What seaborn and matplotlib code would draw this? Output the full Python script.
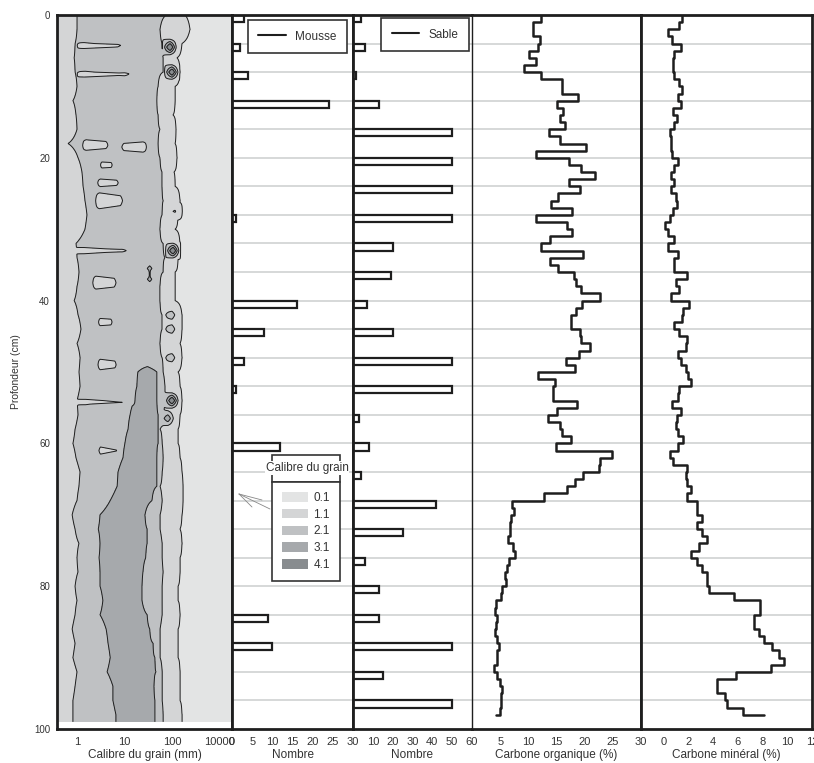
import numpy as np
import pandas as pd
import seaborn as sns
import matplotlib.pyplot as plt
from matplotlib.patches import Patch, Rectangle
from matplotlib.lines import Line2D

nan = np.nan

# --- calibre du grain: limites des classes (mm), noeuds tous les 2 cm ---
grain_depths = np.arange(0, 100, 2)
edge_21_left = [1.0, 1.0, 0.91, 0.87, 0.91, 1.0, 0.82, 0.95, 1.0, 0.65,
                1.05, 1.27, 1.34, 1.47, 1.62, 1.47, 0.95, 1.0, 1.10, 1.0,
                0.87, 1.05, 1.21, 1.0, 1.16, 1.10, 1.16, 1.0, 1.05, 0.91,
                0.82, 0.95, 1.16, 1.10, 1.0, 0.79, 0.91, 1.10, 1.0, 1.05,
                0.91, 1.0, 0.91, 0.79, 0.91, 0.82, 1.0, 0.91, 0.82, 0.82]
edge_31_left = [nan] * 25 + [19.2, 18.3, 16.6, 13.1, 11.9, 10.2, 9.3, 7.3, 7.0, 5.0,
                             3.05, 2.8, 3.05, 2.9, 3.05, 3.05, 3.5, 3.05, 4.1, 4.5,
                             5.0, 4.3, 5.7, 5.7, 6.6]
edge_31_right = [nan] * 25 + [48, 48, 48, 51, 51, 51, 48, 48, 48, 38,
                              27, 30, 30, 28, 24.5, 23.4, 23.4, 30, 34, 40,
                              44, 46, 42, 44, 44]
edge_21_right = [75, 56, 62, 65, 65, 51, 48, 51, 56, 51,
                 56, 62, 62, 65, 62, 56, 65, 71, 65, 56,
                 56, 62, 62, 56, 62, 65, 71, 71, 65, 56,
                 62, 65, 62, 56, 62, 56, 56, 62, 62, 65,
                 62, 62, 62, 56, 56, 56, 62, 62, 62, 65]
edge_11_right = [188, 239, 162, 127, 147, 116, 116, 105, 121, 116,
                 127, 110, 116, 147, 134, 116, 147, 134, 116, 116,
                 116, 162, 162, 147, 162, 134, 147, 162, 147, 134,
                 134, 147, 162, 170, 170, 162, 147, 162, 147, 147,
                 134, 134, 147, 134, 134, 134, 147, 147, 147, 162]

# taches grossières (mm) et lentilles fines
spot_depth = [4.5, 8.0, 27.5, 33.0, 35.5, 37.0, 42.0, 44.0, 48.0, 54.0, 56.5]
spot_size = [91, 100, 116, 105, 34, 34, 100, 100, 100, 100, 82]
spot_peak = [4.0, 4.0, 0.9, 4.2, 1.2, 1.2, 1.0, 1.0, 1.0, 3.9, 2.2]

lens_depth = [4.3, 8.3, 18.2, 18.5, 21.0, 23.5, 26.0, 33.0, 37.5, 43.0, 49.0, 54.2, 61.0]
lens_lo = [1.0, 1.0, 1.27, 8.0, 3.05, 2.64, 2.39, 0.95, 2.07, 2.77, 2.64, 1.0, 2.64]
lens_hi = [10.2, 15.1, 4.95, 29.8, 5.73, 8.0, 10.2, 13.1, 7.3, 5.73, 7.3, 16.6, 8.0]
lens_thick = [0.4, 0.4, 0.9, 0.9, 0.6, 0.7, 1.4, 0.4, 1.2, 0.7, 1.1, 0.4, 1.2]

grain_levels = [0.1, 1.1, 2.1, 3.1, 4.1]
grain_colors = ["#e3e4e4", "#d4d5d6", "#bfc1c3", "#a6a9ac", "#888c8f"]

# --- comptages tous les 4 cm ---
count_depths = np.arange(0, 100, 4)
mousse = [3, 2, 4, 24, 0, 0, 0, 1, 0, 0, 16, 8, 3, 1, 0, 12, 0, 0, 0, 0, 0, 9, 10, 0, 0]
sable = [4, 6, 1.5, 13, 50, 50, 50, 50, 20, 19, 7, 20, 50, 50, 3, 8, 4, 42, 25, 6,
         13, 13, 50, 15, 50]

# --- carbone (%), pas de 1 cm ---
carb_org = [12.3, 10.9, 10.9, 12.0, 11.8, 10.1, 11.4, 9.3, 12.2, 16.0,
            16.0, 18.8, 15.0, 16.2, 15.6, 16.5, 13.7, 15.6, 20.3, 11.3,
            17.2, 19.3, 21.8, 17.2, 19.2, 15.3, 14.0, 17.8, 11.3, 16.9,
            17.8, 13.8, 12.2, 19.7, 13.8, 15.3, 18.1, 18.4, 19.4, 22.7,
            19.6, 18.4, 17.6, 17.5, 19.1, 19.4, 20.9, 19.0, 16.6, 18.2,
            11.7, 14.7, 14.3, 14.3, 18.6, 15.0, 13.5, 15.6, 15.9, 17.5,
            14.9, 24.9, 22.7, 22.5, 19.7, 18.2, 16.9, 12.7, 7.1, 7.5,
            7.0, 6.8, 6.7, 6.4, 7.2, 7.6, 6.6, 6.3, 5.9, 6.1,
            5.3, 5.1, 4.2, 4.1, 4.4, 4.2, 4.1, 4.4, 4.8, 4.4,
            4.5, 3.9, 4.4, 5.0, 5.4, 5.2, 5.2, 5.0]
carb_org_end = 4.2
carb_min = [1.5, 1.3, 0.4, 0.7, 1.4, 0.9, 0.8, 0.8, 0.9, 1.3,
            1.5, 1.2, 1.4, 0.8, 1.1, 0.9, 0.5, 0.6, 0.6, 0.7,
            1.2, 0.9, 0.6, 0.9, 0.6, 1.0, 1.1, 0.8, 0.5, 0.1,
            0.4, 0.9, 0.4, 1.2, 0.9, 0.9, 1.9, 1.0, 1.3, 0.6,
            2.1, 1.6, 1.5, 0.9, 1.3, 1.9, 1.8, 1.2, 1.4, 1.8,
            2.0, 2.2, 1.3, 1.2, 0.7, 1.4, 1.1, 1.0, 1.2, 1.6,
            1.2, 0.5, 0.8, 1.9, 1.8, 1.9, 2.2, 1.9, 2.7, 2.7,
            3.1, 2.7, 3.1, 3.5, 2.9, 2.2, 2.7, 3.1, 3.5, 3.5,
            3.7, 5.7, 7.8, 7.8, 7.3, 7.3, 7.7, 8.1, 8.8, 9.3,
            9.7, 8.7, 5.9, 4.3, 4.3, 5.0, 5.1, 6.4]
carb_min_end = 8.1

grid_depths = np.arange(4, 100, 4)

# ---------------------------------------------------------------------------
sns.set_style("white")
plt.rcParams["font.family"] = ["Liberation Sans", "DejaVu Sans"]
INK = "#1e1e1e"
TXT = "#333333"

grain_xlim = (0.379, 1834)
lx = np.linspace(np.log10(grain_xlim[0]), np.log10(grain_xlim[1]), 420)


def profile(a, b, c, d, e):
    a, d, e = np.log10([a, d, e])
    kx, kz = [lx[0], a], [1.6, 2.1]
    if np.isnan(b):
        kx += [(a + d) / 2]
        kz += [2.6]
    else:
        b, c = np.log10([b, c])
        kx += [(a + b) / 2, b, (b + c) / 2, c, (c + d) / 2]
        kz += [2.6, 3.1, 3.6, 3.1, 2.6]
    kx += [d, (d + e) / 2, e, lx[-1]]
    kz += [2.1, 1.6, 1.1, 0.5]
    return np.interp(lx, kx, kz)


z_nodes = np.array([profile(*r) for r in zip(edge_21_left, edge_31_left, edge_31_right,
                                              edge_21_right, edge_11_right)])
depth_fine = np.arange(0, 99.01, 0.25)
Z = np.column_stack([np.interp(depth_fine, grain_depths, z_nodes[:, j])
                     for j in range(len(lx))])
DD, LX = np.meshgrid(depth_fine, lx, indexing="ij")
for d0, s, amp in zip(spot_depth, spot_size, spot_peak):
    w = (np.clip(1 - np.abs(DD - d0) / 1.2, 0, 1)
         * np.clip(1 - np.abs(LX - np.log10(s)) / 0.16, 0, 1))
    Z += amp * w
for d0, lo, hi, th in zip(lens_depth, lens_lo, lens_hi, lens_thick):
    cx = (np.log10(lo) + np.log10(hi)) / 2
    hw = (np.log10(hi) - np.log10(lo)) / 2
    w = (np.clip(1 - np.abs(DD - d0) / th, 0, 1)
         * np.clip((hw - np.abs(LX - cx)) / (0.3 * hw), 0, 1))
    Z -= 0.9 * w

# --- figure layout (pixels of the 814x763 reference) ---
W, H = 814, 763
fig = plt.figure(figsize=(W / 100, H / 100), dpi=100)
top, bot = 15, 729
edges = [57, 232, 353, 472, 641, 812]
axes = [fig.add_axes([x0 / W, 1 - bot / H, (x1 - x0) / W, (bot - top) / H])
        for x0, x1 in zip(edges[:-1], edges[1:])]
ax1, ax2, ax3, ax4, ax5 = axes

# panel 1: contours
ax1.set_xscale("log")
ax1.contourf(10 ** LX, DD, Z, levels=grain_levels + [50], colors=grain_colors)
ax1.contour(10 ** LX, DD, Z, levels=grain_levels[1:], colors=INK, linewidths=0.7)
ax1.set_xlim(*grain_xlim)
ax1.set_xticks([1, 10, 100, 1000])
ax1.set_xticklabels(["1", "10", "100", "10000"])
ax1.minorticks_off()
ax1.set_yticks(np.arange(0, 101, 20))
ax1.set_ylabel("Profondeur (cm)", fontsize=7.5, color=TXT, labelpad=9)
ax1.set_xlabel("Calibre du grain (mm)", fontsize=8.5, color=TXT, labelpad=1)
ax1.tick_params(axis="y", labelsize=7, length=3, width=2, pad=2, colors=INK, labelcolor=TXT)

# panels 2, 3: bars
df_m = pd.DataFrame({"depth": count_depths + 0.5, "n": mousse})
df_m = df_m[df_m["n"] > 0]
sns.barplot(data=df_m, x="n", y="depth", orient="h", native_scale=True, width=0.25,
            color="white", edgecolor=INK, linewidth=1.6, ax=ax2)
df_s = pd.DataFrame({"depth": count_depths + 0.5, "n": sable})
sns.barplot(data=df_s, x="n", y="depth", orient="h", native_scale=True, width=0.25,
            color="white", edgecolor=INK, linewidth=1.6, ax=ax3)
ax2.set_xlim(0, 30)
ax2.set_xticks(np.arange(0, 31, 5))
ax3.set_xlim(0, 60)
ax3.set_xticks(np.arange(0, 61, 10))
ax3.set_xticklabels([""] + [str(v) for v in range(10, 61, 10)])
ax2.set_xlabel("Nombre", fontsize=8.5, color=TXT, labelpad=1)
ax3.set_xlabel("Nombre", fontsize=8.5, color=TXT, labelpad=1)


def steps(vals, last):
    n = len(vals)
    depth = np.repeat(np.arange(n), 2) + np.tile([0, 1], n)
    return pd.DataFrame({"x": np.append(np.repeat(vals, 2), last),
                         "depth": np.append(depth, n)})


sns.lineplot(data=steps(carb_org, carb_org_end), x="x", y="depth", sort=False,
             estimator=None, orient="y", color=INK, lw=1.8, ax=ax4)
sns.lineplot(data=steps(carb_min, carb_min_end), x="x", y="depth", sort=False,
             estimator=None, orient="y", color=INK, lw=1.8, ax=ax5)
ax4.set_xlim(0, 30)
ax4.set_xticks(np.arange(0, 31, 5))
ax4.set_xticklabels([""] + [str(v) for v in range(5, 31, 5)])
ax5.set_xlim(-1.8, 12)
ax5.set_xticks(np.arange(0, 13, 2))
ax4.set_xlabel("Carbone organique (%)", fontsize=8.5, color=TXT, labelpad=1)
ax5.set_xlabel("Carbone minéral (%)", fontsize=8.5, color=TXT, labelpad=1)

for ax in axes[1:]:
    ax.set_yticks(grid_depths)
    ax.yaxis.grid(True, color="#d3d6d6", lw=1.3)
    ax.set_axisbelow(True)
    ax.tick_params(axis="y", left=False, labelleft=False)
    ax.set_ylabel("")

for ax in axes:
    ax.set_ylim(100, 0)
    ax.tick_params(axis="x", direction="out", length=4, width=1.5, colors=INK,
                   labelcolor=TXT, labelsize=8, pad=2)
    for s in ax.spines.values():
        s.set_color(INK)
        s.set_linewidth(2.0)

ax3.spines["right"].set_visible(False)
ax4.spines["left"].set_linewidth(1.0)

# legends
for ax, lab, dx, dy, w in [(ax2, "Mousse", 6, 5, 121), (ax3, "Sable", 3, 3, 119)]:
    leg = ax.legend(handles=[Line2D([], [], color=INK, lw=1.5)], labels=[lab],
                    loc="upper right", bbox_to_anchor=(1 - dx / w, 1 - dy / 714),
                    borderaxespad=0, fancybox=False, fontsize=8.5, handlelength=2.3,
                    handletextpad=0.8, borderpad=0.9, framealpha=1, edgecolor="#333333")
    leg.get_frame().set_linewidth(1.2)
    for t in leg.get_texts():
        t.set_color(TXT)

patches = [Patch(facecolor=c, edgecolor="none") for c in grain_colors]
leg = fig.legend(handles=patches, labels=[str(v) for v in grain_levels], loc="upper left",
                 bbox_to_anchor=(272 / W, 1 - 482 / H), borderaxespad=0, fancybox=False,
                 fontsize=8.5, handlelength=2.2, handleheight=0.85, handletextpad=0.45,
                 labelspacing=0.4, borderpad=0.85, framealpha=1, edgecolor="#333333")
leg.get_frame().set_linewidth(1.2)
for t in leg.get_texts():
    t.set_color(TXT)
fig.add_artist(Rectangle((272 / W, 1 - 482 / H), 68 / W, 27 / H, transform=fig.transFigure,
                         fill=True, facecolor="white", edgecolor="#333333", lw=1.2))
fig.text(307 / W, 1 - 468 / H, "Calibre du grain", ha="center", va="center", fontsize=8.5,
         color=TXT, bbox=dict(facecolor="white", edgecolor="none", pad=0.5))
fig.add_artist(Line2D([270 / W, 239 / W], [1 - 509 / H, 1 - 494 / H], color="#888888",
                      lw=0.6, transform=fig.transFigure))
fig.add_artist(Line2D([262 / W, 239 / W], [1 - 500 / H, 1 - 494 / H], color="#888888",
                      lw=0.6, transform=fig.transFigure))
fig.add_artist(Line2D([252 / W, 239 / W], [1 - 507 / H, 1 - 494 / H], color="#888888",
                      lw=0.6, transform=fig.transFigure))

fig.savefig("out.png", dpi=100)
